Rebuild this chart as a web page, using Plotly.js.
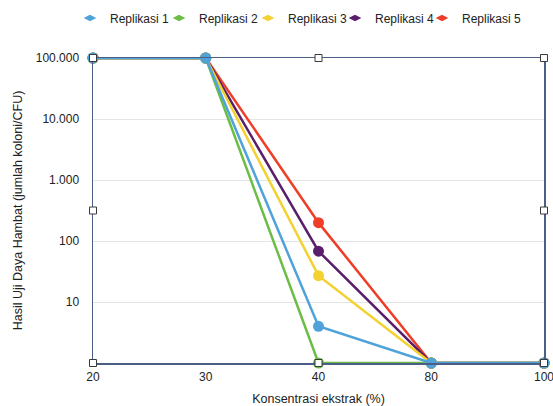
<!DOCTYPE html>
<html>
<head>
<meta charset="utf-8">
<script src="https://cdn.plot.ly/plotly-3.0.1.min.js"></script>
<style>html,body{margin:0;padding:0;background:#fff;}#chart{width:553px;height:406px;}</style>
</head>
<body>
<div id="chart"></div>
<script>
const concentrations = ['20', '30', '40', '80', '100'];
const seriesNames = ['Replikasi 1', 'Replikasi 2', 'Replikasi 3', 'Replikasi 4', 'Replikasi 5'];
const replikasi1 = [100000, 100000, 4, 1, 1];
const replikasi2 = [100000, 100000, 1, 1, 1];
const replikasi3 = [100000, 100000, 27, 1, 1];
const replikasi4 = [100000, 100000, 68, 1, 1];
const replikasi5 = [100000, 100000, 200, 1, 1];
const yTickVals = [10, 100, 1000, 10000, 100000];
const yTickText = ['10', '100', '1.000', '10.000', '100.000'];

const colors = ['#4fa3d9', '#6cbd45', '#f3d131', '#5a1f6b', '#ee3e27'];
const values = [replikasi1, replikasi2, replikasi3, replikasi4, replikasi5];
const legendIds = ['legend', 'legend2', 'legend3', 'legend4', 'legend5'];

const traces = [];
// data traces: series 1 drawn last (on top)
for (let i = values.length - 1; i >= 0; i--) {
  traces.push({
    type: 'scatter', mode: 'lines+markers',
    x: concentrations, y: values[i], name: seriesNames[i],
    line: {color: colors[i], width: 2.5},
    marker: {color: colors[i], size: 11},
    cliponaxis: false, showlegend: false
  });
}
// legend entries (one legend per series, placed in a row)
for (let i = 0; i < values.length; i++) {
  traces.push({
    type: 'scatter', mode: 'markers',
    x: [null], y: [null], name: seriesNames[i],
    marker: {color: colors[i], size: 9, symbol: 'diamond-wide'},
    showlegend: true, legend: legendIds[i]
  });
}

const axisColor = '#4a5e86';
const handles = [];
[[0,0],[0.5,0],[1,0],[0,0.5],[1,0.5],[0,1],[0.5,1],[1,1]].forEach(p => {
  handles.push({
    type: 'rect', xref: 'paper', yref: 'paper',
    xsizemode: 'pixel', ysizemode: 'pixel',
    xanchor: p[0], yanchor: p[1],
    x0: -3.5, x1: 3.5, y0: -3.5, y1: 3.5,
    fillcolor: '#ffffff', line: {color: '#3a3a3a', width: 1}, layer: 'above'
  });
});

const plotLeft = 93, plotW = 451, plotTop = 58, plotH = 305;
const legendMarkerPx = [90, 179, 268, 355, 442];

const layout = {
  width: 553, height: 406,
  margin: {l: plotLeft, r: 9, t: plotTop, b: 43, autoexpand: false},
  paper_bgcolor: '#fff', plot_bgcolor: '#fff',
  font: {family: 'Liberation Sans, Arial, sans-serif', size: 12, color: '#222'},
  showlegend: true,
  xaxis: {
    type: 'category', categoryorder: 'array', categoryarray: concentrations,
    range: [0, 4], showline: true, mirror: true, linecolor: axisColor, linewidth: 1.5,
    showgrid: false, zeroline: false, ticks: '', ticklabelstandoff: 2,
    title: {text: 'Konsentrasi ekstrak (%)', font: {size: 12.5}, standoff: 12},
    automargin: false
  },
  yaxis: {
    type: 'log', range: [0, 5], tickvals: yTickVals, ticktext: yTickText,
    showline: true, mirror: true, linecolor: axisColor, linewidth: 1.5,
    showgrid: true, gridcolor: '#e4e4e4', gridwidth: 1, zeroline: false, ticks: '',
    ticklabelstandoff: 10,
    title: {text: 'Hasil Uji Daya Hambat (jumlah koloni/CFU)', font: {size: 12.5}, standoff: 10},
    automargin: false
  },
  shapes: handles
};

legendIds.forEach((id, i) => {
  layout[id] = {
    orientation: 'h', xref: 'paper', yref: 'paper',
    x: (legendMarkerPx[i] - 20 - plotLeft) / plotW, xanchor: 'left',
    y: 1 + (plotTop - 18) / plotH, yanchor: 'middle',
    bgcolor: 'rgba(0,0,0,0)', borderwidth: 0, font: {size: 12}
  };
});

Plotly.newPlot('chart', traces, layout, {displayModeBar: false, staticPlot: true});
</script>
</body>
</html>
